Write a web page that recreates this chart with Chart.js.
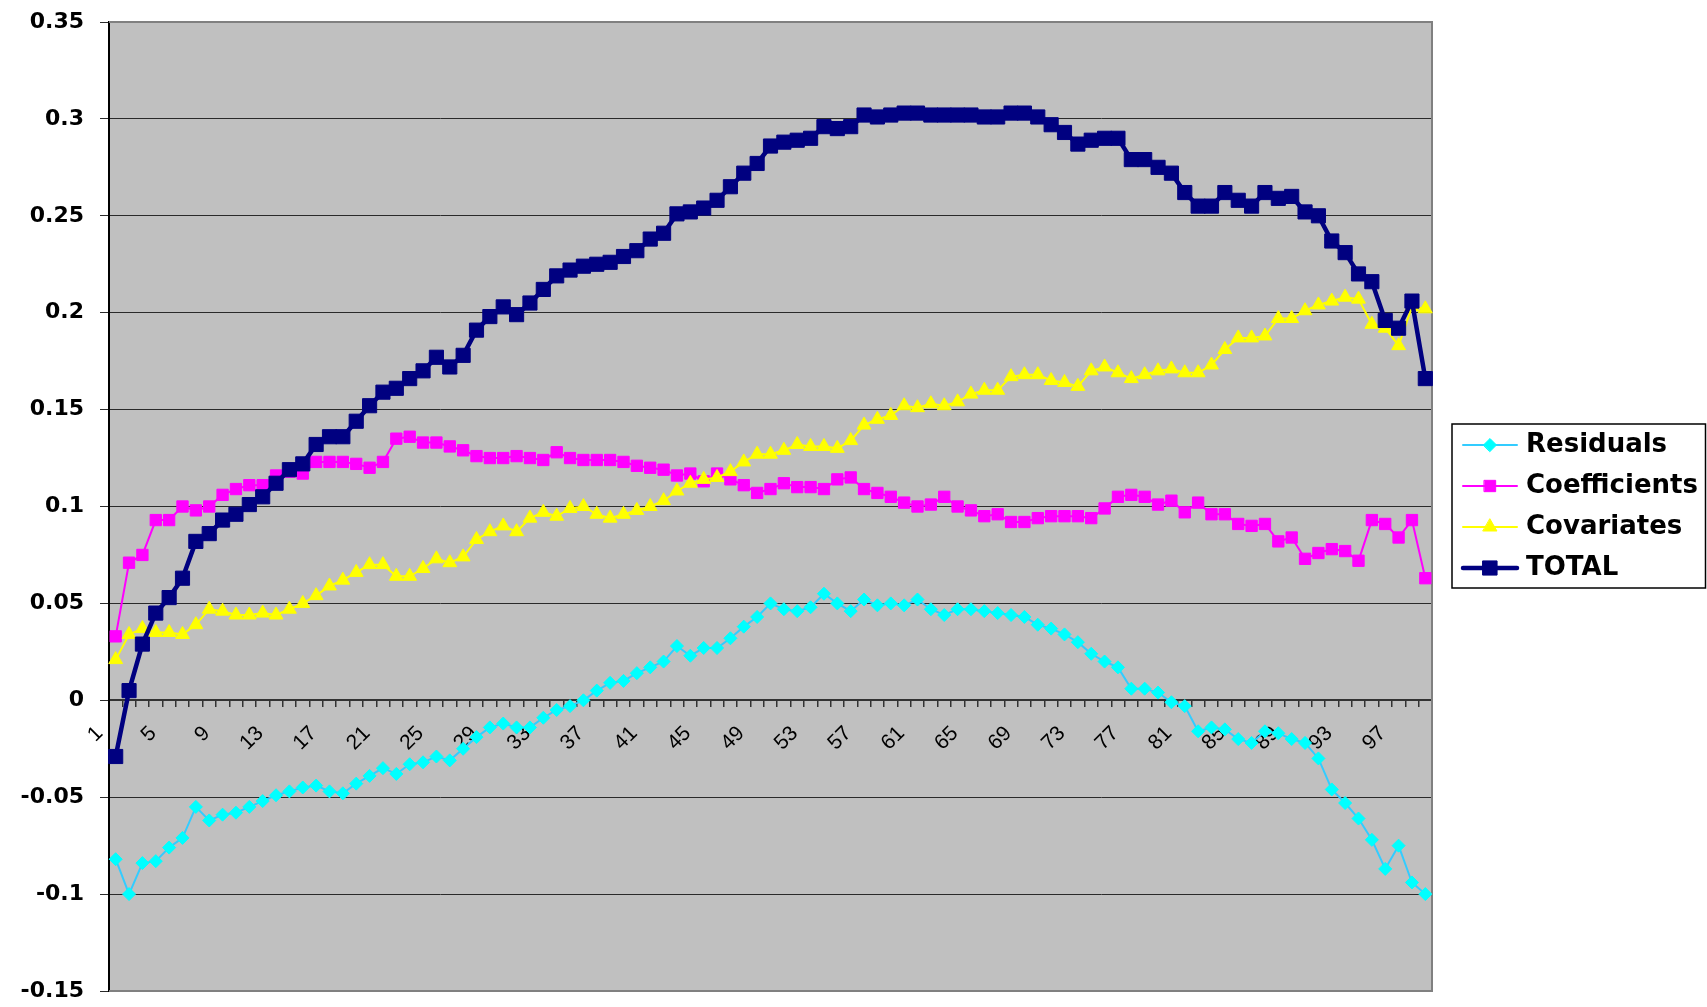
<!DOCTYPE html>
<html>
<head>
<meta charset="utf-8">
<script src="https://cdn.jsdelivr.net/npm/chart.js@4.4.0/dist/chart.umd.min.js"></script>
<style>
html, body { margin: 0; padding: 0; background: #ffffff; }
#wrap { width: 1707px; height: 1007px; position: relative; }
</style>
</head>
<body>
<div id="wrap"><canvas id="c"></canvas></div>
<script>
// ---------- DATA ----------
const categories = ['1','2','3','4','5','6','7','8','9','10','11','12','13','14','15','16','17','18','19','20',
  '21','22','23','24','25','26','27','28','29','30','31','32','33','34','35','36','37','38','39','40',
  '41','42','43','44','45','46','47','48','49','50','51','52','53','54','55','56','57','58','59','60',
  '61','62','63','64','65','66','67','68','69','70','71','72','73','74','75','76','77','78','79','80',
  '81','82','83','84','85','86','87','88','89','90','91','92','93','94','95','96','97','98','99'];

const xTickLabels = ['1','5','9','13','17','21','25','29','33','37','41','45','49','53','57','61','65','69','73','77','81','85','89','93','97'];

const yTickValues = [-0.15, -0.1, -0.05, 0, 0.05, 0.1, 0.15, 0.2, 0.25, 0.3, 0.35];
const yTickLabels = ['-0.15', '-0.1', '-0.05', '0', '0.05', '0.1', '0.15', '0.2', '0.25', '0.3', '0.35'];

const seriesNames = ['Residuals', 'Coefficients', 'Covariates', 'TOTAL'];

const residuals = [-0.082,-0.100,-0.084,-0.083,-0.076,-0.071,-0.055,-0.062,-0.059,-0.058,
  -0.055,-0.052,-0.049,-0.047,-0.045,-0.044,-0.047,-0.048,-0.043,-0.039,
  -0.035,-0.038,-0.033,-0.032,-0.029,-0.031,-0.025,-0.019,-0.014,-0.012,
  -0.014,-0.014,-0.009,-0.005,-0.003,0.000,0.005,0.009,0.010,0.014,
  0.017,0.020,0.028,0.023,0.027,0.027,0.032,0.038,0.043,0.050,
  0.047,0.046,0.048,0.055,0.050,0.046,0.052,0.049,0.050,0.049,
  0.052,0.047,0.044,0.047,0.047,0.046,0.045,0.044,0.043,0.039,
  0.037,0.034,0.030,0.024,0.020,0.017,0.006,0.006,0.004,-0.001,
  -0.003,-0.016,-0.014,-0.015,-0.020,-0.022,-0.016,-0.017,-0.020,-0.022,
  -0.030,-0.046,-0.053,-0.061,-0.072,-0.087,-0.075,-0.094,-0.100];

const coefficients = [0.033,0.071,0.075,0.093,0.093,0.100,0.098,0.100,0.106,0.109,
  0.111,0.111,0.116,0.118,0.117,0.123,0.123,0.123,0.122,0.120,
  0.123,0.135,0.136,0.133,0.133,0.131,0.129,0.126,0.125,0.125,
  0.126,0.125,0.124,0.128,0.125,0.124,0.124,0.124,0.123,0.121,
  0.120,0.119,0.116,0.117,0.113,0.117,0.114,0.111,0.107,0.109,
  0.112,0.110,0.110,0.109,0.114,0.115,0.109,0.107,0.105,0.102,
  0.100,0.101,0.105,0.100,0.098,0.095,0.096,0.092,0.092,0.094,
  0.095,0.095,0.095,0.094,0.099,0.105,0.106,0.105,0.101,0.103,
  0.097,0.102,0.096,0.096,0.091,0.090,0.091,0.082,0.084,0.073,
  0.076,0.078,0.077,0.072,0.093,0.091,0.084,0.093,0.063];

const covariates = [0.021,0.034,0.037,0.035,0.035,0.034,0.039,0.047,0.046,0.044,
  0.044,0.045,0.044,0.047,0.050,0.054,0.059,0.062,0.066,0.070,
  0.070,0.064,0.064,0.068,0.073,0.071,0.074,0.083,0.087,0.090,
  0.087,0.094,0.097,0.095,0.099,0.100,0.096,0.094,0.096,0.098,
  0.100,0.103,0.108,0.112,0.114,0.115,0.118,0.123,0.127,0.127,
  0.129,0.132,0.131,0.131,0.130,0.134,0.142,0.145,0.147,0.152,
  0.151,0.153,0.152,0.154,0.158,0.160,0.160,0.167,0.168,0.168,
  0.165,0.164,0.162,0.170,0.172,0.169,0.166,0.168,0.170,0.171,
  0.169,0.169,0.173,0.181,0.187,0.187,0.188,0.197,0.197,0.201,
  0.204,0.206,0.208,0.207,0.194,0.192,0.183,0.203,0.202];

const total = [-0.029,0.005,0.029,0.045,0.053,0.063,0.082,0.086,0.093,0.096,
  0.101,0.105,0.112,0.119,0.122,0.132,0.136,0.136,0.144,0.152,
  0.159,0.161,0.166,0.170,0.177,0.172,0.178,0.191,0.198,0.203,
  0.199,0.205,0.212,0.219,0.222,0.224,0.225,0.226,0.229,0.232,
  0.238,0.241,0.251,0.252,0.254,0.258,0.265,0.272,0.277,0.286,
  0.288,0.289,0.290,0.296,0.295,0.296,0.302,0.301,0.302,0.303,
  0.303,0.302,0.302,0.302,0.302,0.301,0.301,0.303,0.303,0.301,
  0.297,0.293,0.287,0.289,0.290,0.290,0.279,0.279,0.275,0.272,
  0.262,0.255,0.255,0.262,0.258,0.255,0.262,0.259,0.260,0.252,
  0.250,0.237,0.231,0.220,0.216,0.196,0.192,0.206,0.166];

// ---------- STYLES ----------
const styles = [
  { line: '#33CCFF', fill: '#00FFFF', width: 2,   shape: 'rectRot',  radius: 6.5, order: 3 },
  { line: '#FF00FF', fill: '#FF00FF', width: 2,   shape: 'rect',     radius: 8,   order: 2 },
  { line: '#FFFF00', fill: '#FFFF00', width: 2,   shape: 'triangle', radius: 8,   order: 1 },
  { line: '#000080', fill: '#000080', width: 4.5, shape: 'rect',     radius: 10,  order: 0 }
];
const seriesData = [residuals, coefficients, covariates, total];

// legend symbol (line + marker) drawn on a small canvas
function legendSymbol(st) {
  const c = document.createElement('canvas');
  c.width = 80; c.height = 28;
  const g = c.getContext('2d');
  g.strokeStyle = st.line; g.lineWidth = st.width; g.lineCap = 'round';
  g.beginPath(); g.moveTo(23, 14); g.lineTo(77, 14); g.stroke();
  const cx = 50, cy = 14, r = st.radius;
  g.fillStyle = st.fill; g.strokeStyle = st.fill; g.lineWidth = 1;
  g.beginPath();
  if (st.shape === 'rectRot') {
    g.moveTo(cx - r, cy); g.lineTo(cx, cy - r); g.lineTo(cx + r, cy); g.lineTo(cx, cy + r); g.closePath();
  } else if (st.shape === 'rect') {
    const s = Math.SQRT1_2 * r; g.rect(cx - s, cy - s, 2 * s, 2 * s);
  } else {
    g.moveTo(cx, cy - r);
    g.lineTo(cx + r * Math.sin(2 * Math.PI / 3), cy - r * Math.cos(2 * Math.PI / 3));
    g.lineTo(cx + r * Math.sin(4 * Math.PI / 3), cy - r * Math.cos(4 * Math.PI / 3));
    g.closePath();
  }
  g.fill(); g.stroke();
  return c;
}
const legendIcons = styles.map(legendSymbol);

const datasets = seriesNames.map((name, i) => ({
  label: name,
  data: seriesData[i],
  borderColor: styles[i].line,
  backgroundColor: styles[i].fill,
  borderWidth: styles[i].width,
  pointStyle: styles[i].shape,
  pointRadius: styles[i].radius,
  pointHoverRadius: styles[i].radius,
  pointBackgroundColor: styles[i].fill,
  pointBorderColor: styles[i].fill,
  pointBorderWidth: 1,
  tension: 0,
  fill: false,
  order: styles[i].order
}));

// plot area background and border
const plotArea = {
  id: 'plotArea',
  beforeDraw(chart) {
    const { ctx, chartArea: a } = chart;
    ctx.save();
    ctx.fillStyle = '#ffffff';
    ctx.fillRect(0, 0, chart.width, chart.height);
    ctx.fillStyle = '#C0C0C0';
    ctx.fillRect(a.left, a.top, a.right - a.left, a.bottom - a.top);
    ctx.restore();
  },
  beforeDatasetsDraw(chart) {
    const { ctx, chartArea: a } = chart;
    ctx.save();
    ctx.strokeStyle = '#808080';
    ctx.lineWidth = 2;
    ctx.beginPath();
    ctx.moveTo(a.left, a.top); ctx.lineTo(a.right, a.top);
    ctx.lineTo(a.right, a.bottom); ctx.lineTo(a.left, a.bottom);
    ctx.stroke();
    ctx.restore();
  }
};

// border around the legend
const legendBorder = {
  id: 'legendBorder',
  afterDraw(chart) {
    const lg = chart.legend;
    if (!lg || !lg.legendHitBoxes || !lg.legendHitBoxes.length) return;
    const hb = lg.legendHitBoxes;
    const top = hb[0].top - 8;
    const last = hb[hb.length - 1];
    const bottom = last.top + last.height + 7;
    const left = lg.left + 20;
    const right = chart.width - 1.5;
    const ctx = chart.ctx;
    ctx.save();
    ctx.strokeStyle = '#000000';
    ctx.lineWidth = 1.5;
    ctx.strokeRect(left, top, right - left, bottom - top);
    ctx.restore();
  }
};

new Chart(document.getElementById('c'), {
  type: 'line',
  data: { labels: categories, datasets },
  plugins: [plotArea, legendBorder],
  options: {
    responsive: true,
    maintainAspectRatio: false,
    animation: false,
    devicePixelRatio: 1,
    layout: { padding: { top: 22, bottom: 16, left: 0, right: 5 } },
    plugins: {
      tooltip: { enabled: false },
      title: { display: false },
      legend: {
        display: true,
        position: 'right',
        align: 'center',
        maxWidth: 270,
        labels: {
          usePointStyle: true,
          pointStyleWidth: 66,
          padding: 15,
          color: '#000000',
          font: { family: '"DejaVu Sans", sans-serif', size: 26, weight: 'bold' },
          generateLabels(chart) {
            return seriesNames.map((name, i) => ({
              text: name,
              fillStyle: styles[i].fill,
              strokeStyle: styles[i].line,
              lineWidth: 0,
              pointStyle: legendIcons[i],
              hidden: false,
              datasetIndex: i,
              fontColor: '#000000'
            }));
          }
        }
      }
    },
    scales: {
      x: {
        type: 'category',
        position: { y: 0 },
        offset: true,
        grid: {
          display: true,
          drawOnChartArea: false,
          drawTicks: true,
          tickLength: 6,
          offset: true,
          color: '#333333',
          lineWidth: 1.5
        },
        border: { display: true, color: '#333333', width: 2 },
        ticks: {
          autoSkip: false,
          minRotation: 45,
          maxRotation: 45,
          labelOffset: -16,
          padding: 15,
          color: '#000000',
          font: { family: '"Liberation Sans", Arial, sans-serif', size: 21 },
          callback(value, index) {
            const lab = categories[index];
            return xTickLabels.includes(lab) ? lab : '';
          }
        }
      },
      y: {
        type: 'linear',
        position: 'left',
        min: -0.15,
        max: 0.35,
        afterBuildTicks(scale) {
          scale.ticks = yTickValues.map(v => ({ value: v }));
        },
        afterFit(scale) {
          scale.width = 109;
          scale.paddingTop = 10;
          scale.paddingBottom = 10;
        },
        grid: {
          display: true,
          drawOnChartArea: true,
          drawTicks: true,
          tickLength: 9,
          color: '#2a2a2a',
          lineWidth: 1
        },
        border: { display: true, color: '#000000', width: 2 },
        ticks: {
          padding: 16,
          color: '#000000',
          font: { family: '"DejaVu Sans", sans-serif', size: 22, weight: 'bold' },
          callback(value, index) { return yTickLabels[index]; }
        }
      }
    }
  }
});
</script>
</body>
</html>
